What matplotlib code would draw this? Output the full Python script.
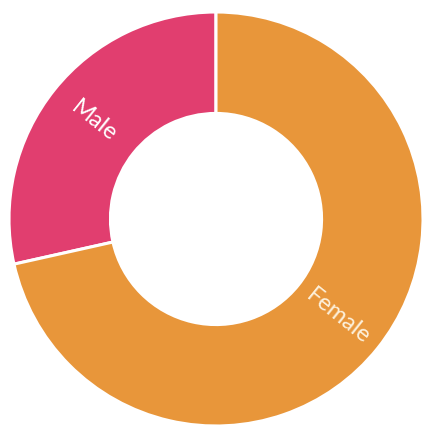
import numpy as np
import matplotlib.pyplot as plt

labels = ["Male", "Female"]
shares = [28.5, 71.5]
colors = ["#E13E6F", "#E8963A"]
label_colors = ["#FFFFFF", "#FDF1DC"]

W, H = 424, 425
cx, cy = 216, 206
R = 207
ring = 0.49

fig = plt.figure(figsize=(W / 100, H / 100), dpi=100)
ax = fig.add_axes([0, 0, 1, 1])

wedges, _ = ax.pie(
    shares,
    colors=colors,
    startangle=90,
    counterclock=True,
    center=(cx, cy),
    radius=R,
    wedgeprops=dict(width=R * ring, edgecolor="white", linewidth=2.2),
    frame=True,
)
ax.set_xlim(0, W)
ax.set_ylim(0, H)
ax.set_aspect("equal")
ax.axis("off")

# labels sit inside the ring, rotated along the radius
for w, lab, tc in zip(wedges, labels, label_colors):
    mid = (w.theta1 + w.theta2) / 2
    r = R * 0.755
    x = cx + r * np.cos(np.radians(mid))
    y = cy + r * np.sin(np.radians(mid))
    rot = mid - 180 if np.cos(np.radians(mid)) < 0 else mid
    ax.text(x, y, lab, color=tc, fontsize=17, family="Lato",
            rotation=rot, rotation_mode="anchor", ha="center", va="center")

fig.savefig("out.png", dpi=100)
